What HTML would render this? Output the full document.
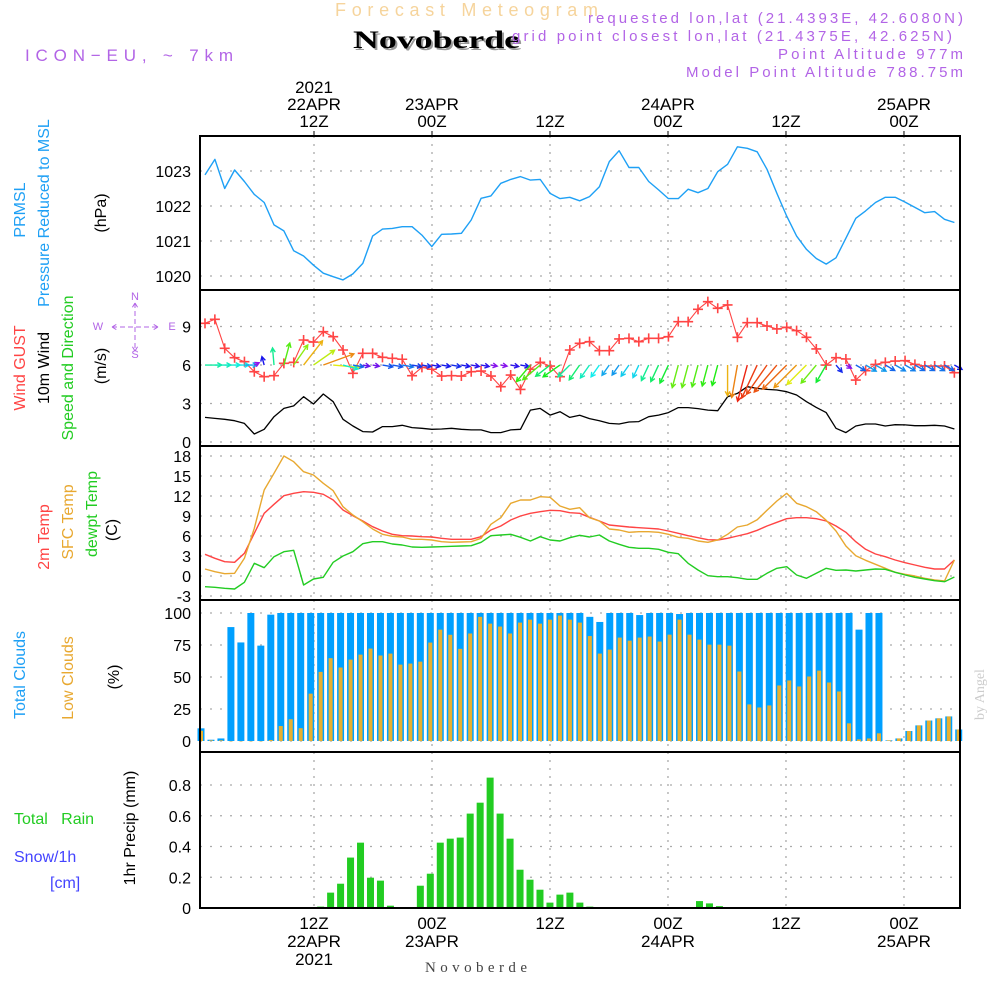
<!DOCTYPE html>
<html><head><meta charset="utf-8"><style>
html,body{margin:0;padding:0;background:#fff;}
svg{display:block;font-family:"Liberation Sans",sans-serif;}
</style></head><body>
<svg id="chart" xmlns="http://www.w3.org/2000/svg" width="1000" height="1000" viewBox="0 0 1000 1000">
<rect width="1000" height="1000" fill="#fff"/>
<text x="335" y="16" font-size="18" fill="#f6d49c" textLength="263" lengthAdjust="spacing">Forecast Meteogram</text>
<text x="355" y="50" font-size="25" font-weight="bold" font-family="Liberation Serif,serif" fill="#999" textLength="167" lengthAdjust="spacingAndGlyphs">Novoberde</text>
<text x="353" y="48" font-size="25" font-weight="bold" font-family="Liberation Serif,serif" fill="#000" textLength="167" lengthAdjust="spacingAndGlyphs">Novoberde</text>
<text x="25" y="61" font-size="17" fill="#b264e6" textLength="208" lengthAdjust="spacing">ICON−EU, ~ 7km</text>
<g fill="#b264e6" font-size="15">
<text x="588" y="23" textLength="375" lengthAdjust="spacing">requested lon,lat (21.4393E, 42.6080N)</text>
<text x="512" y="41" textLength="440" lengthAdjust="spacing">grid point closest lon,lat (21.4375E, 42.625N)</text>
<text x="778" y="59" textLength="185" lengthAdjust="spacing">Point Altitude 977m</text>
<text x="686" y="77" textLength="277" lengthAdjust="spacing">Model Point Altitude 788.75m</text>
</g>
<g id="grid"></g>
<g id="marks"></g>
<g id="frames"></g>
<g id="labels"></g>
<text transform="translate(984,720) rotate(-90)" font-size="14" font-family="Liberation Serif,serif" fill="#ccc">by Angel</text>
<text x="425" y="972" font-size="15" font-family="Liberation Serif,serif" fill="#444" textLength="102" lengthAdjust="spacing">Novoberde</text>
</svg>
<script>
// ---- data (hourly, t = 1..77 h from 00Z 22APR) ----
const pressure = [1022.89,1023.33,1022.5,1023.03,1022.7,1022.33,1022.1,1021.46,1021.29,1020.72,1020.57,1020.31,1020.08,1019.98,1019.89,1020.06,1020.36,1021.14,1021.34,1021.36,1021.41,1021.41,1021.17,1020.84,1021.19,1021.2,1021.22,1021.6,1022.22,1022.29,1022.65,1022.76,1022.84,1022.74,1022.76,1022.36,1022.21,1022.25,1022.15,1022.27,1022.55,1023.27,1023.58,1023.1,1023.1,1022.7,1022.46,1022.21,1022.21,1022.48,1022.38,1022.5,1022.98,1023.19,1023.69,1023.65,1023.55,1023.05,1022.36,1021.71,1021.14,1020.76,1020.5,1020.34,1020.52,1021.08,1021.65,1021.86,1022.1,1022.25,1022.25,1022.11,1021.96,1021.81,1021.84,1021.62,1021.53];
const gust = [9.25,9.56,7.3,6.57,6.26,5.48,5.09,5.17,6.13,6.21,7.95,7.79,8.6,8.21,7.17,5.35,6.91,6.91,6.6,6.52,6.45,5.17,5.82,5.67,5.14,5.17,5.14,5.48,5.53,5.14,4.31,5.22,4.1,5.67,6.21,5.92,5.09,7.17,7.69,7.82,7.12,7.12,8.03,8.08,7.82,8.08,8.08,8.21,9.38,9.38,10.34,10.94,10.42,10.68,8.16,9.3,9.3,9.04,8.81,8.94,8.68,8.16,7.25,6.0,6.57,6.47,4.83,5.56,6.05,6.21,6.31,6.34,6.05,5.92,5.92,5.92,5.4];
const wind = [1.92,1.84,1.77,1.66,1.45,0.62,0.99,1.97,2.62,2.81,3.53,2.96,3.74,3.14,1.77,1.25,0.81,0.78,1.2,1.2,1.3,1.12,1.07,0.99,1.01,1.07,0.99,0.94,0.94,0.73,0.73,0.94,0.99,2.49,2.62,2.1,2.36,1.92,2.08,1.82,1.66,1.45,1.4,1.56,1.59,1.97,2.1,2.29,2.68,2.68,2.6,2.49,2.44,3.53,3.79,4.31,4.18,4.1,4.05,3.92,3.66,3.14,2.7,2.29,1.07,0.73,1.25,1.4,1.4,1.25,1.35,1.33,1.27,1.27,1.3,1.25,1.01];
const windDir = [90,90,90,90,90,65,345,355,15,35,38,55,70,95,105,100,100,100,100,100,100,100,100,100,100,100,100,100,100,100,100,100,100,220,230,232,235,225,215,215,215,215,215,215,205,205,205,205,195,195,195,195,195,180,190,195,205,215,220,225,225,225,220,210,140,120,120,120,120,120,120,120,120,120,120,120,120];
const temp2m = [3.25,2.65,2.15,2.05,3.4,6.4,9.4,10.75,12.05,12.4,12.65,12.55,12.25,11.4,9.9,9.05,8.25,7.4,6.75,6.25,6.05,6.0,5.9,5.85,5.65,5.5,5.5,5.5,5.9,6.9,7.5,8.4,9.0,9.4,9.65,9.85,9.8,9.5,9.4,8.8,8.25,7.65,7.5,7.35,7.25,7.15,7.05,6.75,6.4,6.05,5.75,5.45,5.4,5.65,6.0,6.35,6.85,7.5,8.05,8.6,8.75,8.75,8.6,8.25,7.5,6.55,5.15,4.0,3.3,2.9,2.4,2.0,1.65,1.3,1.05,1.05,2.4];
const tempSfc = [1.05,0.65,0.35,0.4,2.65,7.15,12.9,15.4,18.0,17.15,15.65,15.15,13.9,12.8,10.4,9.15,8.15,7.05,6.25,5.95,5.85,5.5,5.5,5.4,5.15,5.05,5.1,5.15,5.65,7.75,8.75,10.9,11.4,11.4,11.9,11.8,10.5,10.0,10.25,8.75,8.25,7.05,6.9,6.55,6.65,6.65,6.55,6.25,5.8,5.65,5.25,5.05,5.4,6.25,7.35,7.65,8.45,9.85,11.25,12.4,10.9,10.4,9.65,8.35,6.75,4.5,3.05,2.35,1.75,1.15,0.55,0.25,0,-0.35,-0.6,-0.75,2.4];
const dewpt = [-1.6,-1.7,-1.85,-1.95,-0.95,1.9,1.25,2.9,3.65,3.85,-1.35,-0.45,-0.2,2.05,3.0,3.65,4.85,5.15,5.15,4.8,4.65,4.35,4.3,4.35,4.4,4.45,4.5,4.55,5.05,6.05,6.15,6.25,5.8,5.25,5.9,5.4,5.25,5.75,6.1,5.85,6.15,5.25,4.75,4.3,4.15,4.15,4.0,3.55,3.35,1.9,0.9,0.05,-0.1,-0.1,-0.25,-0.5,-0.5,0.4,1.15,1.4,0.15,-0.35,0.4,1.15,0.85,0.9,0.75,0.9,1.05,1.0,0.55,0.15,-0.2,-0.45,-0.7,-0.85,-0.15];
const totalClouds = [9.9,1,2,89,77,100,74.5,98.7,100,100,100,100,100,100,100,100,100,100,100,100,100,100,100,100,100,100,100,100,100,100,100,100,100,100,100,100,100,100,100,97,93,100,100,100,98.4,100,100,100,99.2,100,100,100,100,100,100,100,100,100,100,100,100,100,100,100,100,100,87,100,100,0.5,2,7.8,12.2,16,17.7,19.2,9];
const lowClouds = [8,0.5,0.5,0,0,0,0,0.8,11.7,17,10,37,54,64.7,57.4,63.6,67.5,72.2,66.8,68.3,59.7,60.5,62,76.9,87,83,72,84,97,91.7,89.4,84,92.5,94.8,91.7,94.8,98,94.8,92.5,82,68.3,71.4,80.8,78.4,80.8,81.6,77.7,83.1,94.8,83.1,79.2,75.3,75.3,74.5,54.3,28.6,26.2,27.8,43.4,47.3,42.6,50.4,55,45.7,38.7,13.8,1.3,2,6,0.5,2,7.8,12.2,16,17.7,19.2,9];
const precip = [0,0,0,0,0,0,0,0,0,0,0,0,0.009,0.1,0.158,0.328,0.425,0.197,0.178,0.015,0,0,0.145,0.223,0.425,0.451,0.458,0.614,0.685,0.848,0.614,0.451,0.249,0.184,0.119,0.035,0.087,0.1,0.035,0.009,0,0,0,0,0,0,0,0,0,0,0.045,0.03,0.012,0,0,0,0,0,0,0,0,0,0,0,0,0,0,0,0,0,0,0,0,0,0,0,0];
const timeTickHours = [12,24,36,48,60,72];
const topTickLabels = [["2021","22APR","12Z"],["23APR","00Z"],["12Z"],["24APR","00Z"],["12Z"],["25APR","00Z"]];
const bottomTickLabels = [["12Z","22APR","2021"],["00Z","23APR"],["12Z"],["00Z","24APR"],["12Z"],["00Z","25APR"]];
const pressureTicks = [1020,1021,1022,1023];
const windTicks = [0,3,6,9];
const tempTicks = [-3,0,3,6,9,12,15,18];
const cloudTicks = [0,25,50,75,100];
const precipTicks = [0,0.2,0.4,0.6,0.8];

// ---- axes ----
const NS = "http://www.w3.org/2000/svg";
const X0 = 200, X1 = 960;
const xTime = h => 314 + (h - 12) * 9.833;
const xLine = i => 205 + i * 9.86;
const xBar = i => 201 + i * 9.97;
const yP = v => 171 + (1023 - v) * 35;
const yW = v => 442 - v * 12.83;
const yT = v => 576 - v * 6.667;
const yC = v => 741 - v * 1.28;
const yR = v => 908 - v * 153.75;
const panels = [[136,290],[290,446],[446,600],[600,752],[752,908]];

function mk(tag, attrs, parent){
  const e = document.createElementNS(NS, tag);
  for (const k in attrs) e.setAttribute(k, attrs[k]);
  parent.appendChild(e);
  return e;
}
const grid = document.getElementById('grid');
const marks = document.getElementById('marks');
const frames = document.getElementById('frames');
const labels = document.getElementById('labels');

timeTickHours.forEach(h => {
  const x = xTime(h);
  const l = mk('line', {x1:x, x2:x, y1:136, y2:908, stroke:'#aaa', 'stroke-width':1.3, 'stroke-dasharray':'2,6'}, grid);
  
  
  const t = mk('line', {x1:x, x2:x, y1:131, y2:136, stroke:'#000', 'stroke-width':1}, frames);
  
  
});
function hgrid(ticks, yf, fmt, name){
  ticks.forEach(v => {
    const y = yf(v);
    const l = mk('line', {x1:X0, x2:X1, y1:y, y2:y, stroke:'#aaa', 'stroke-width':1.3, 'stroke-dasharray':'2,8'}, grid);
    
    
    const t = mk('text', {x:191, y:y+6, 'text-anchor':'end', 'font-size':16, fill:'#000'}, labels);
    t.textContent = fmt(v);
    
    
  });
}
hgrid(pressureTicks, yP, v => String(v), 'pressure');
hgrid(windTicks, yW, v => String(v), 'wind');
hgrid(tempTicks, yT, v => String(v), 'temp');
hgrid(cloudTicks, yC, v => String(v), 'cloud');
hgrid(precipTicks, yR, v => v === 0 ? '0' : v.toFixed(1), 'precip');

function polyline(arr, yf, color, name, w){
  const pts = arr.map((v,i) => xLine(i).toFixed(1) + ',' + yf(v).toFixed(1)).join(' ');
  const p = mk('polyline', {points:pts, fill:'none', stroke:color, 'stroke-width':w||1.4, 'stroke-linejoin':'round'}, marks);
  
  
}
polyline(pressure, yP, '#1ea0f5', 'pressure-line');

totalClouds.forEach((v,i) => {
  const x = xBar(i);
  const r = mk('rect', {x:x-3.5, y:yC(v), width:7, height:Math.max(0.5, yC(0)-yC(v)), fill:'#00a0ff'}, marks);
  
  
});
lowClouds.forEach((v,i) => {
  const x = xBar(i);
  const r = mk('rect', {x:x-2, y:yC(v), width:4, height:Math.max(0.3, yC(0)-yC(v)), fill:'#e8b030'}, marks);
  
  
});
precip.forEach((v,i) => {
  if (v <= 0) return;
  const x = xBar(i);
  const r = mk('rect', {x:x-3.5, y:yR(v), width:7, height:yR(0)-yR(v), fill:'#22cc22'}, marks);
  
  
});

polyline(temp2m, yT, '#ff4444', '2m-temp-line');
polyline(tempSfc, yT, '#e8a830', 'sfc-temp-line');
polyline(dewpt, yT, '#22cc22', 'dewpt-line');

polyline(wind, yW, '#000', 'wind-speed-line', 1.3);
polyline(gust, yW, '#ff4444', 'gust-line', 1.1);
gust.forEach((v,i) => {
  const x = xLine(i), y = yW(v);
  const g = mk('path', {d:`M${x-5},${y}H${x+5}M${x},${y-5}V${y+5}`, stroke:'#ff4444', 'stroke-width':1.6, fill:'none'}, marks);
  
  
});
function hueFor(s){
  const st = [[0.7,275],[1.0,240],[1.6,185],[2.4,120],[3.0,70],[3.6,40],[4.3,5]];
  if (s <= st[0][0]) return st[0][1];
  for (let k=1;k<st.length;k++){
    if (s <= st[k][0]) { const a=st[k-1], b=st[k]; return a[1] + (b[1]-a[1])*(s-a[0])/(b[0]-a[0]); }
  }
  return 5;
}
wind.forEach((s,i) => {
  const x = xLine(i), y = yW(6);
  const a = windDir[i] * Math.PI/180;
  const len = 8.7 * s;
  const dx = Math.sin(a), dy = -Math.cos(a);
  const hx = x + dx*len, hy = y + dy*len;
  const h1x = hx - 5*(dx*Math.cos(0.5) - dy*Math.sin(0.5)), h1y = hy - 5*(dy*Math.cos(0.5) + dx*Math.sin(0.5));
  const h2x = hx - 5*(dx*Math.cos(-0.5) - dy*Math.sin(-0.5)), h2y = hy - 5*(dy*Math.cos(-0.5) + dx*Math.sin(-0.5));
  const col = `hsl(${hueFor(s).toFixed(0)},85%,50%)`;
  const p = mk('path', {d:`M${x},${y}L${hx},${hy}M${h1x},${h1y}L${hx},${hy}L${h2x},${h2y}`, stroke:col, 'stroke-width':1.4, fill:'none'}, marks);
  
  
});

panels.forEach((p,k) => {
  const r = mk('rect', {x:X0, y:p[0], width:X1-X0, height:p[1]-p[0], fill:'none', stroke:'#000', 'stroke-width':2}, frames);
  
  
});

timeTickHours.forEach((h,k) => {
  const x = xTime(h);
  const top = topTickLabels[k];
  top.forEach((s,j) => {
    const t = mk('text', {x:x, y:127 - (top.length-1-j)*17, 'text-anchor':'middle', 'font-size':17, fill:'#000'}, labels);
    t.textContent = s;
    
    
  });
  bottomTickLabels[k].forEach((s,j) => {
    const t = mk('text', {x:x, y:929 + j*18, 'text-anchor':'middle', 'font-size':17, fill:'#000'}, labels);
    t.textContent = s;
    
    
  });
});

function vtext(x, cy, str, color, name){
  const t = mk('text', {transform:`translate(${x},${cy}) rotate(-90)`, 'text-anchor':'middle', 'font-size':16, fill:color}, labels);
  t.textContent = str;
  
  
}
vtext(25, 210, 'PRMSL', '#1ea0f5', 'pressure-title');
vtext(49, 213, 'Pressure Reduced to MSL', '#1ea0f5', 'pressure-subtitle');
vtext(106, 213, '(hPa)', '#000', 'pressure-unit');
vtext(25, 368, 'Wind GUST', '#ff4444', 'gust-title');
vtext(49, 368, '10m Wind', '#000', 'wind-title');
vtext(73, 368, 'Speed and Direction', '#22cc22', 'wind-direction-title');
vtext(106, 366, '(m/s)', '#000', 'wind-unit');
vtext(49, 537, '2m Temp', '#ff4444', 'temp2m-title');
vtext(73, 522, 'SFC Temp', '#e8a830', 'sfc-temp-title');
vtext(97, 514, 'dewpt Temp', '#22cc22', 'dewpt-title');
vtext(117, 530, '(C)', '#000', 'temp-unit');
vtext(25, 675, 'Total Clouds', '#1ea0f5', 'total-clouds-title');
vtext(73, 678, 'Low Clouds', '#e8a830', 'low-clouds-title');
vtext(119, 677, '(%)', '#000', 'cloud-unit');
vtext(135, 828, '1hr Precip (mm)', '#000', 'precip-title');
[['Total\u00a0\u00a0\u00a0Rain',14,824,'#22cc22','rain-label'],['Snow/1h',14,862,'#4444ff','snow-label'],['[cm]',50,888,'#4444ff','snow-unit']].forEach(a => {
  const t = mk('text', {x:a[1], y:a[2], 'font-size':16, fill:a[3]}, labels);
  t.textContent = a[0];
  
  
});
[['N',135,300],['S',135,358],['W',98,330],['E',172,330]].forEach(a => {
  const t = mk('text', {x:a[1], y:a[2], 'text-anchor':'middle', 'font-size':11, fill:'#b264e6'}, labels);
  t.textContent = a[0];
  
  
});
const cp = mk('path', {d:'M112,327H158M112,327l5,-3M112,327l5,3M158,327l-5,-3M158,327l-5,3M135,303V351M135,303l-3,5M135,303l3,5M135,351l-3,-5M135,351l3,-5', stroke:'#b264e6', 'stroke-width':1, fill:'none', 'stroke-dasharray':'5,3'}, labels);


</script>
</body></html>
